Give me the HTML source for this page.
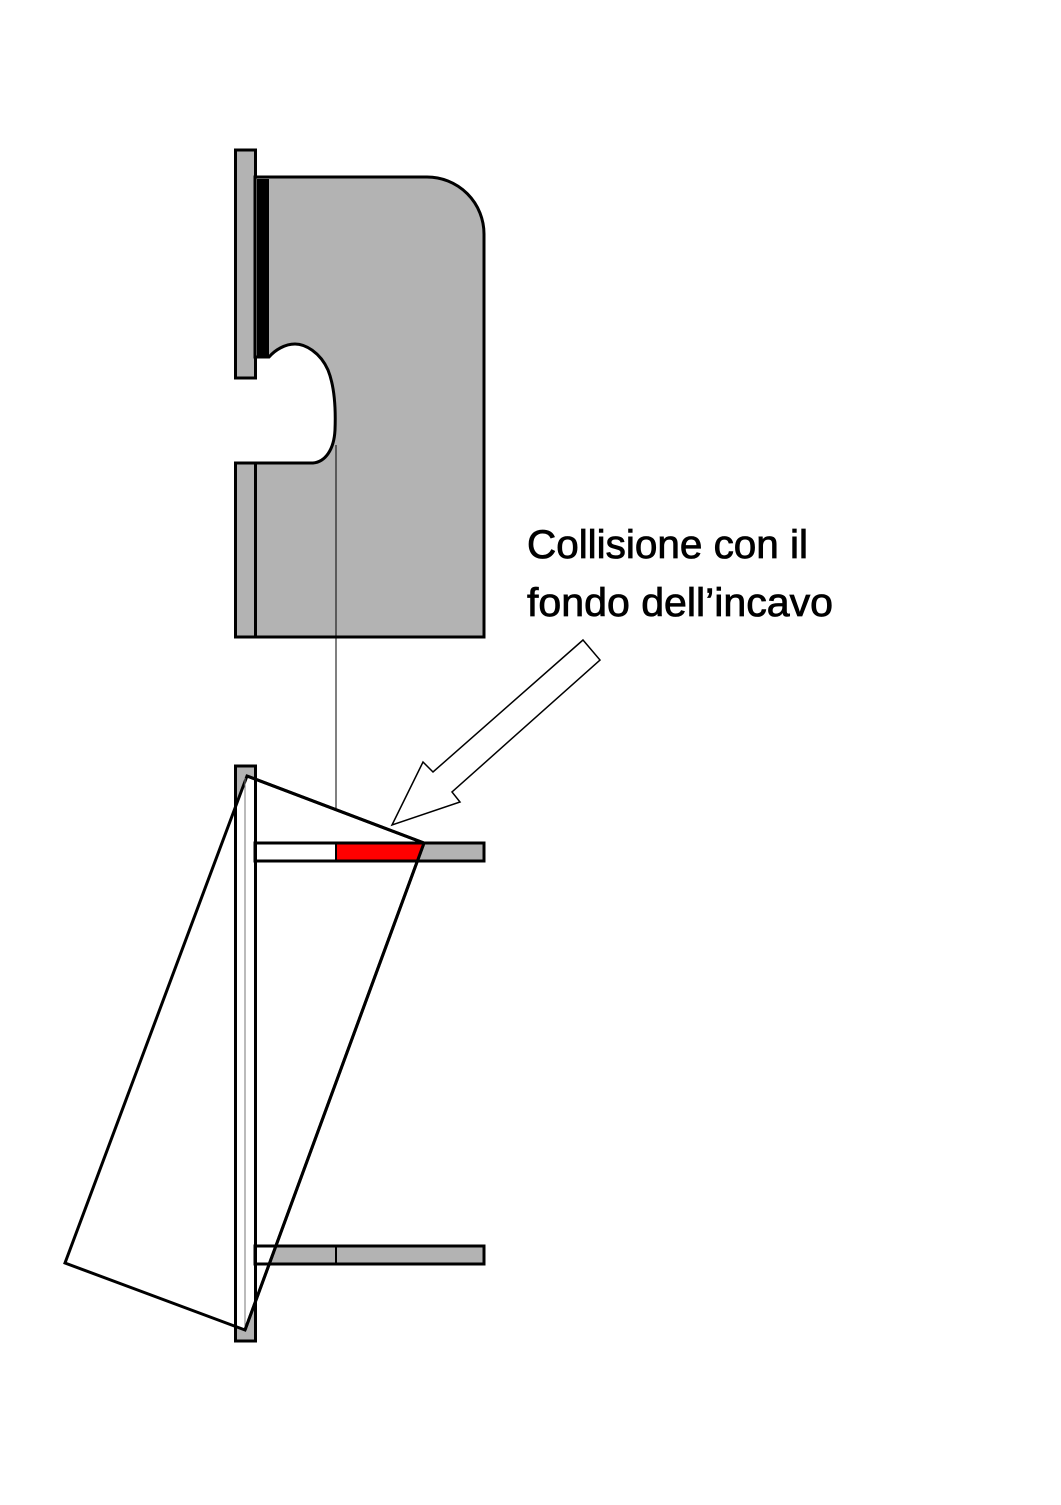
<!DOCTYPE html>
<html><head><meta charset="utf-8"><style>html,body{margin:0;padding:0;background:#fff}</style></head>
<body>
<svg width="1061" height="1500" viewBox="0 0 1061 1500" xmlns="http://www.w3.org/2000/svg">
<rect width="1061" height="1500" fill="#fff"/>
<!-- top figure -->
<rect x="235.5" y="150" width="20" height="228" fill="#b3b3b3" stroke="#000" stroke-width="3"/>
<path d="M255,177 L427,177 A57,57 0 0 1 484,234 L484,637 L255,637 L255,463 L313,463 C325,462 334,450 335,430 C336,405 334,385 328,370 C320,352 305,344 295,344 C285,344 275,350 269,357 L255,357 Z" fill="#b3b3b3" stroke="#000" stroke-width="3"/>
<rect x="257" y="179" width="12" height="178" fill="#000"/>
<path d="M235,463 L313,463" stroke="#000" stroke-width="3"/>
<rect x="235.5" y="463" width="20" height="174" fill="#b3b3b3" stroke="#000" stroke-width="3"/>
<line x1="336" y1="445" x2="336" y2="843" stroke="#000" stroke-width="1"/>
<!-- bottom figure -->
<rect x="235.5" y="766" width="20" height="575" fill="#b3b3b3" stroke="#000" stroke-width="3"/>
<rect x="255" y="843" width="229" height="18" fill="#b3b3b3"/>
<rect x="255" y="1246" width="229" height="18" fill="#b3b3b3"/>
<polygon points="247,776 424,843 245,1330 65,1263" fill="#fff" stroke="#000" stroke-width="3"/>
<polygon points="336,843 424,843 418,861 336,861" fill="#ff0000"/>
<rect x="255" y="843" width="229" height="18" fill="none" stroke="#000" stroke-width="3"/>
<line x1="336" y1="843" x2="336" y2="861" stroke="#000" stroke-width="2"/>
<rect x="255" y="1246" width="229" height="18" fill="none" stroke="#000" stroke-width="3"/>
<line x1="336" y1="1246" x2="336" y2="1264" stroke="#000" stroke-width="2"/>
<rect x="235.5" y="766" width="20" height="575" fill="none" stroke="#000" stroke-width="3"/>
<line x1="245" y1="778" x2="245" y2="1328" stroke="#777" stroke-width="1"/>
<line x1="424" y1="843" x2="245" y2="1330" stroke="#000" stroke-width="3"/>
<line x1="247" y1="776" x2="424" y2="843" stroke="#000" stroke-width="3"/>
<!-- arrow -->
<polygon points="583,640 600,660 452,792 460,802 392,825 423,762 433,772" fill="#fff" stroke="#000" stroke-width="1.5"/>
<text x="527" y="558" font-family="Liberation Sans, sans-serif" font-size="40" stroke="#000" stroke-width="0.8" textLength="281" lengthAdjust="spacingAndGlyphs">Collisione con il</text>
<text x="527" y="616" font-family="Liberation Sans, sans-serif" font-size="40" stroke="#000" stroke-width="0.8" textLength="306" lengthAdjust="spacingAndGlyphs">fondo dell’incavo</text>
</svg>
</body></html>
